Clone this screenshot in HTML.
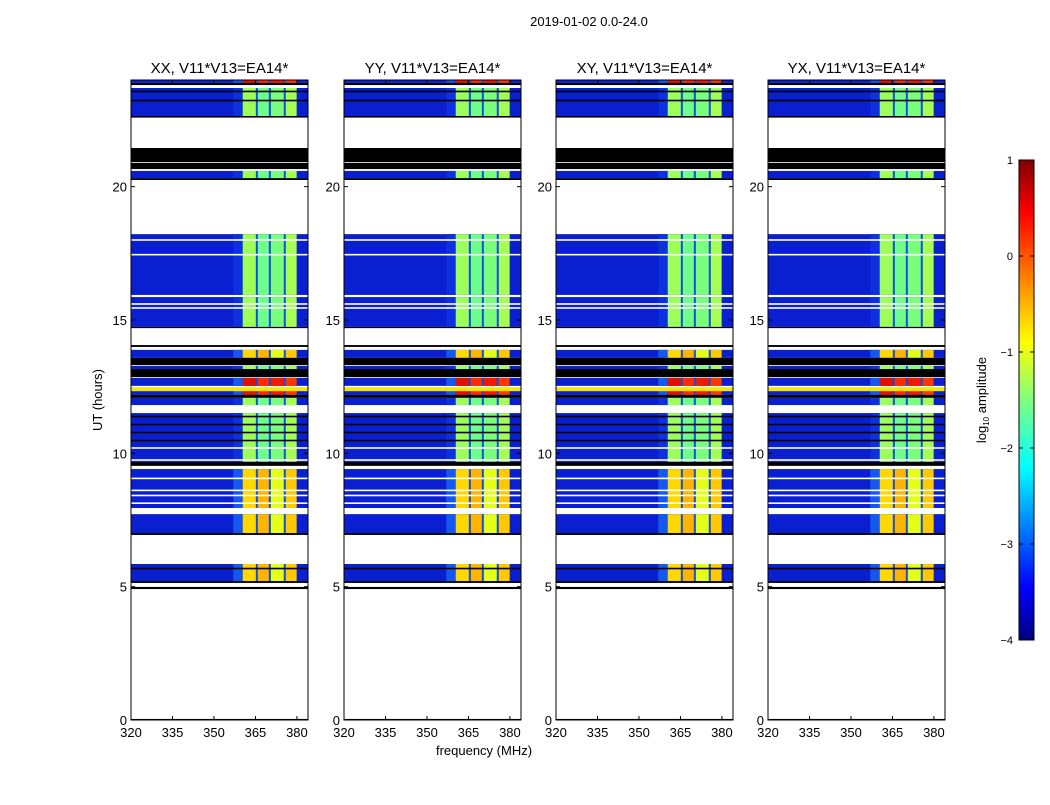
<!DOCTYPE html>
<html><head><meta charset="utf-8"><style>
body{margin:0;background:#fff;}
svg text{font-family:"Liberation Sans",sans-serif;fill:#000;}
</style></head><body>
<svg id="fig" width="1050" height="800" viewBox="0 0 1050 800" xmlns="http://www.w3.org/2000/svg">
<defs>
<linearGradient id="jet" x1="0" y1="1" x2="0" y2="0">
<stop offset="0" stop-color="#00007f"/><stop offset="0.11" stop-color="#0000ff"/>
<stop offset="0.36" stop-color="#00ffff"/><stop offset="0.5" stop-color="#7fff7f"/>
<stop offset="0.62" stop-color="#ffff00"/><stop offset="0.89" stop-color="#ff0000"/>
<stop offset="1" stop-color="#7f0000"/></linearGradient>
</defs>
<text x="589" y="26" font-size="13" text-anchor="middle">2019-01-02 0.0-24.0</text>
<text x="102" y="400" font-size="13" text-anchor="middle" transform="rotate(-90 102 400)">UT (hours)</text>
<text x="484" y="755" font-size="13" text-anchor="middle">frequency (MHz)</text>
<g id="panels"></g>
<g>
<rect x="1019" y="160" width="15" height="480" fill="url(#jet)" stroke="#000" stroke-width="1"/>
</g>
<g id="cbticks"></g>
<text x="986" y="400" font-size="13" text-anchor="middle" transform="rotate(-90 986 400)">log<tspan font-size="8" dy="3">10</tspan><tspan dy="-3"> amplitude</tspan></text>
</svg>
<script>
const panelTitles=["XX, V11*V13=EA14*","YY, V11*V13=EA14*","XY, V11*V13=EA14*","YX, V11*V13=EA14*"];
const xTicks=[320,335,350,365,380];
const yTicks=[0,5,10,15,20];
const cbTicks=[1,0,-1,-2,-3,-4];
// time segments (hours) and their kind
const segStart=[23.89,23.81,22.65,22.59,20.92,20.66,20.32,20.25,15.94,14.74,14.70,13.99,13.58,13.31,13.16,12.86,12.53,12.19,12.08,11.81,9.68,9.53,7.95,7.01,6.94,5.21,5.14,4.91,0];
const segEnd  =[24.0 ,23.89,23.7 ,22.65,21.45,20.89,20.59,20.32,18.22,15.86,14.74,14.06,13.88,13.58,13.28,13.16,12.83,12.38,12.19,12.08,11.51,9.68,9.41,7.72,7.01,5.85,5.21,4.99,0.04];
const segKind =["r","k","g","k","k","k","g","k","g","g","k","k","y","k","g","k","r","r","k","g","g","k","y","y","k","y","k","k","k"];
// thin lines inside data segments
const lineAt  =[23.57,23.23,18.0,17.45,15.6,15.45,11.38,11.08,10.78,10.48,10.2,9.75,9.06,8.61,8.42,8.13,7.8,5.68,12.45];
const lineKind=["k","k","w","w","w","w","k","k","k","k","w","w","w","w","w","w","w","k","Y"];
const chanEdges=[360.4,365.5,370.2,375.6,379.9];
const fMin=320,fMax=384,tMin=0,tMax=24;
const panelLeft=[131,344,556,768],pw=177,pTop=80,pBot=720;
const chanCol={g:["#9dff5a","#6dff8a","#7aff7d","#a5ff52"],y:["#ffd800","#ffb400","#e4ff18","#ffc800"],r:["#e01000","#ff2a00","#f01800","#ff3800"]};
const NS="http://www.w3.org/2000/svg";
function mk(t,a,parent){const e=document.createElementNS(NS,t);for(const k in a)e.setAttribute(k,a[k]);parent.appendChild(e);return e;}
const root=document.getElementById('panels');
panelLeft.forEach((L,pi)=>{
  const xs=f=>L+(f-fMin)/(fMax-fMin)*pw;
  const ys=t=>pBot-(t-tMin)/(tMax-tMin)*(pBot-pTop);
  const g=mk('g',{},root);
  
  
  segStart.forEach((s,i)=>{
    const k=segKind[i],y0=ys(segEnd[i]),h=ys(s)-y0;
    if(k==="k"){const r=mk('rect',{x:L,y:y0,width:pw,height:Math.max(h,1.2),fill:"#000"},g);
      return;}
    const r=mk('rect',{x:L,y:y0,width:pw,height:h,fill:"#0a20d0"},g);
    
    mk('rect',{x:xs(357),y:y0,width:xs(chanEdges[0])-xs(357),height:h,fill:k==="g"?"#0d30e0":"#1558f0"},g);
    for(let c=0;c<4;c++){
      const cell=mk('rect',{x:xs(chanEdges[c]),y:y0,width:xs(chanEdges[c+1])-xs(chanEdges[c]),height:h,fill:chanCol[k][c]},g);
      
      if(c>0)mk('rect',{x:xs(chanEdges[c])-1,y:y0,width:2,height:h,fill:"#1050e0"},g);
    }
  });
  lineAt.forEach((t,i)=>{
    const k=lineKind[i];
    const l=mk('rect',{x:L,y:ys(t)-0.8,width:pw,height:k==="Y"?4:1.6,fill:k==="k"?"#000":k==="w"?"#fff":"#f4e800"},g);
    
  });
  const fr=mk('rect',{x:L,y:pTop,width:pw,height:pBot-pTop,fill:"none",stroke:"#000","stroke-width":1},g);
  
  const tt=mk('text',{x:L+pw/2,y:73,"font-size":15,"text-anchor":"middle"},g);tt.textContent=panelTitles[pi];
  
  xTicks.forEach(f=>{
    const x=xs(f);
    mk('line',{x1:x,x2:x,y1:pBot,y2:pBot-4,stroke:"#000"},g);
    mk('line',{x1:x,x2:x,y1:pTop,y2:pTop+4,stroke:"#000"},g);
    const t=mk('text',{x:x,y:737,"font-size":13,"text-anchor":"middle"},g);t.textContent=f;
    
  });
  yTicks.forEach(v=>{
    const y=ys(v);
    mk('line',{x1:L,x2:L+4,y1:y,y2:y,stroke:"#000"},g);
    mk('line',{x1:L+pw,x2:L+pw-4,y1:y,y2:y,stroke:"#000"},g);
    const t=mk('text',{x:L-4,y:y+5,"font-size":13,"text-anchor":"end"},g);t.textContent=v;
    
  });
});
const cg=document.getElementById('cbticks');
cbTicks.forEach(v=>{
  const y=160+(1-v)/5*480;
  mk('line',{x1:1019,x2:1023,y1:y,y2:y,stroke:"#000"},cg);
  mk('line',{x1:1034,x2:1030,y1:y,y2:y,stroke:"#000"},cg);
  const t=mk('text',{x:1013,y:y+4,"font-size":11,"text-anchor":"end"},cg);
  t.textContent=v<0?"\u2212"+(-v):v;
  
});
</script>
</body></html>
